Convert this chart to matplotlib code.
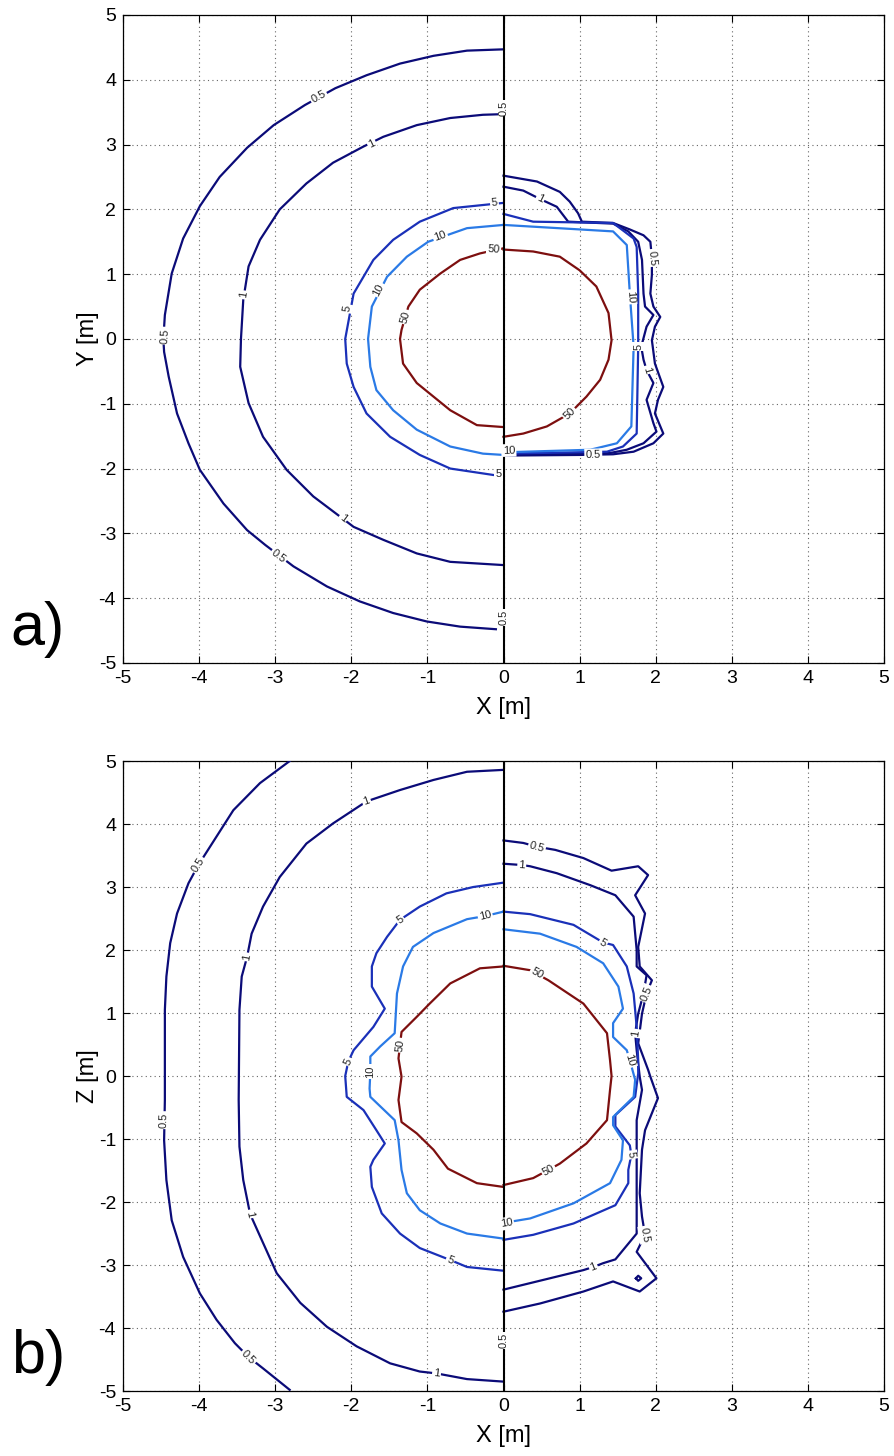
import matplotlib
matplotlib.use('Agg')
import matplotlib.pyplot as plt
import numpy as np

plt.rcParams['font.family'] = ['Liberation Sans', 'DejaVu Sans']
plt.rcParams['axes.unicode_minus'] = False

# ---------------- data ----------------
levels = ['0.5', '1', '5', '10', '50']
level_colors = {'0.5': '#0b0b78', '1': '#0b0b78', '5': '#1a30b8',
                '10': '#2a7ae6', '50': '#7d0f0f'}

# ---- panel a (X-Y) : left half (unshielded) ----
a_l_05_x = [0, -0.48, -0.92, -1.36, -1.80, -2.21, -2.61, -3.02, -3.37, -3.73, -3.99, -4.21, -4.36, -4.45, -4.47,
            -4.46, -4.40, -4.29, -4.14, -3.99, -3.68, -3.37, -3.13, -2.76, -2.32, -1.89, -1.45, -1.01, -0.57, -0.10]
a_l_05_y = [4.47, 4.45, 4.37, 4.25, 4.07, 3.87, 3.61, 3.30, 2.95, 2.50, 2.05, 1.55, 1.01, 0.37, 0.0,
            -0.20, -0.58, -1.15, -1.61, -2.02, -2.54, -2.95, -3.18, -3.51, -3.82, -4.05, -4.23, -4.36, -4.44, -4.48]
a_l_1_x = [0, -0.27, -0.70, -1.14, -1.58, -1.84, -2.24, -2.59, -2.94, -3.20, -3.35, -3.42, -3.45,
           -3.46, -3.35, -3.16, -2.85, -2.50, -2.15, -1.97, -1.58, -1.14, -0.70, 0]
a_l_1_y = [3.47, 3.46, 3.41, 3.30, 3.12, 2.97, 2.72, 2.40, 2.00, 1.53, 1.12, 0.60, 0.0,
           -0.43, -0.99, -1.51, -2.02, -2.43, -2.74, -2.90, -3.10, -3.31, -3.44, -3.49]
a_l_5_x = [0, -0.66, -1.10, -1.45, -1.71, -1.97, -2.08, -2.06, -1.97, -1.80, -1.49, -1.10, -0.70, -0.13, 0]
a_l_5_y = [2.10, 2.02, 1.81, 1.53, 1.22, 0.70, 0.0, -0.38, -0.74, -1.15, -1.51, -1.79, -2.00, -2.10, -2.10]
a_l_10_x = [0, -0.48, -0.99, -1.27, -1.53, -1.73, -1.78, -1.75, -1.67, -1.45, -1.14, -0.70, -0.27, 0]
a_l_10_y = [1.76, 1.71, 1.50, 1.27, 0.96, 0.50, 0.0, -0.43, -0.79, -1.10, -1.40, -1.66, -1.77, -1.79]
a_l_50_x = [0, -0.31, -0.57, -0.83, -1.10, -1.25, -1.34, -1.36, -1.32, -1.14, -0.92, -0.70, -0.35, 0]
a_l_50_y = [1.40, 1.32, 1.22, 1.01, 0.76, 0.50, 0.14, 0.0, -0.38, -0.68, -0.89, -1.10, -1.33, -1.36]

# ---- panel a : right half (shielded) ----
a_r_05_x = [0, 0.44, 0.74, 0.87, 0.98, 1.03, 1.44, 1.66, 1.84, 1.93, 1.95, 1.95, 1.93, 1.97, 2.06, 1.99,
            1.95, 1.99, 2.10, 2.03, 1.99, 2.10, 1.97, 1.71, 1.44, 1.00, 0]
a_r_05_y = [2.52, 2.43, 2.27, 2.12, 1.94, 1.81, 1.79, 1.69, 1.60, 1.50, 1.25, 0.99, 0.70, 0.50, 0.34, 0.19,
            -0.02, -0.38, -0.74, -0.94, -1.15, -1.46, -1.61, -1.74, -1.78, -1.79, -1.80]
a_r_1_x = [0, 0.26, 0.48, 0.70, 0.85, 1.44, 1.64, 1.77, 1.82, 1.84, 1.86, 1.97, 1.88, 1.81, 1.84, 1.88,
           1.97, 1.88, 1.97, 2.01, 1.84, 1.62, 1.40, 0]
a_r_1_y = [2.35, 2.29, 2.16, 2.04, 1.81, 1.78, 1.66, 1.50, 1.22, 0.70, 0.50, 0.37, 0.19, -0.12, -0.32, -0.48,
           -0.68, -0.94, -1.30, -1.43, -1.61, -1.71, -1.76, -1.79]
a_r_5_x = [0, 0.39, 1.44, 1.71, 1.75, 1.77, 1.77, 1.75, 1.57, 1.36, 0]
a_r_5_y = [1.93, 1.81, 1.79, 1.55, 1.42, 0.70, -0.12, -1.46, -1.66, -1.74, -1.77]
a_r_10_x = [0, 1.44, 1.62, 1.66, 1.71, 1.68, 1.49, 1.14, 0]
a_r_10_y = [1.76, 1.66, 1.45, 0.70, -0.12, -1.35, -1.61, -1.71, -1.75]
a_r_50_x = [0, 0.39, 0.74, 1.00, 1.22, 1.38, 1.42, 1.38, 1.27, 1.09, 0.87, 0.57, 0.26, 0]
a_r_50_y = [1.38, 1.35, 1.27, 1.06, 0.81, 0.40, -0.02, -0.32, -0.63, -0.89, -1.15, -1.35, -1.46, -1.51]

# ---- panel b (X-Z) : left half ----
b_l_05_x = [-2.81, -3.20, -3.55, -4.01, -4.14, -4.29, -4.38, -4.43, -4.45, -4.45, -4.46, -4.43, -4.36,
            -4.21, -3.99, -3.77, -3.53, -3.35, -3.16, -2.81]
b_l_05_y = [5.0, 4.65, 4.22, 3.35, 3.06, 2.58, 2.11, 1.58, 1.05, -0.38, -1.02, -1.65, -2.29,
            -2.87, -3.45, -3.87, -4.24, -4.46, -4.64, -4.98]
b_l_1_x = [0, -0.48, -0.92, -1.36, -1.80, -2.24, -2.59, -2.94, -3.16, -3.31, -3.37, -3.44, -3.47, -3.48,
           -3.47, -3.42, -3.33, -3.20, -2.98, -2.67, -2.32, -1.93, -1.49, -1.10, -0.88, -0.48, 0]
b_l_1_y = [4.86, 4.83, 4.70, 4.54, 4.36, 4.01, 3.69, 3.16, 2.69, 2.26, 1.89, 1.58, 1.05, -0.38,
           -1.12, -1.65, -2.19, -2.54, -3.13, -3.60, -3.98, -4.29, -4.56, -4.69, -4.72, -4.81, -4.85]
b_l_5_x = [0, -0.40, -0.75, -1.10, -1.36, -1.53, -1.67, -1.73, -1.73, -1.56, -1.71, -1.97, -2.04, -2.08,
           -2.06, -1.84, -1.67, -1.56, -1.71, -1.75, -1.73, -1.60, -1.36, -1.10, -0.70, -0.48, 0]
b_l_5_y = [3.07, 3.00, 2.90, 2.69, 2.48, 2.21, 1.95, 1.74, 1.42, 1.07, 0.78, 0.41, 0.23, 0.0,
           -0.33, -0.54, -0.86, -1.07, -1.33, -1.44, -1.76, -2.18, -2.50, -2.73, -2.92, -3.03, -3.09]
b_l_10_x = [0, -0.24, -0.48, -0.92, -1.19, -1.32, -1.40, -1.43, -1.62, -1.75, -1.75, -1.76,
            -1.75, -1.43, -1.38, -1.34, -1.27, -1.10, -0.83, -0.48, 0]
b_l_10_y = [2.61, 2.54, 2.49, 2.27, 2.05, 1.74, 1.31, 0.68, 0.47, 0.31, 0.07, -0.20,
            -0.33, -0.70, -1.02, -1.49, -1.86, -2.13, -2.34, -2.50, -2.58]
b_l_50_x = [0, -0.31, -0.70, -0.97, -1.14, -1.34, -1.36, -1.38, -1.34, -1.38, -1.34, -1.14, -0.92,
            -0.73, -0.35, 0]
b_l_50_y = [1.74, 1.71, 1.47, 1.15, 0.94, 0.70, 0.49, 0.28, -0.01, -0.38, -0.73, -0.91, -1.17,
            -1.47, -1.70, -1.76]

# ---- panel b : right half ----
b_r_05_x = [0, 0.26, 0.44, 0.68, 1.05, 1.42, 1.77, 1.90, 1.73, 1.86, 1.77, 1.79, 1.95, 1.88, 1.82, 1.77,
            1.90, 1.93, 2.03, 1.86, 1.82, 1.79, 1.82, 1.86, 1.75, 2.01, 1.79, 1.44, 1.05, 0.48, 0]
b_r_05_y = [3.74, 3.70, 3.64, 3.59, 3.46, 3.26, 3.33, 3.19, 2.87, 2.58, 2.05, 1.74, 1.52, 1.31, 0.99, 0.52,
            0.10, -0.01, -0.35, -0.86, -1.17, -1.86, -2.23, -2.52, -2.79, -3.21, -3.42, -3.26, -3.42, -3.61, -3.74]
b_r_05_loop_x = [1.74, 1.77, 1.81, 1.77, 1.74]
b_r_05_loop_y = [-3.21, -3.17, -3.21, -3.25, -3.21]
b_r_1_x = [0, 0.24, 0.35, 0.70, 1.14, 1.47, 1.71, 1.75, 1.75, 1.88, 1.84, 1.77, 1.73, 1.75, 1.79, 1.82,
           1.75, 1.75, 1.47, 1.31, 1.18, 1.05, 0]
b_r_1_y = [3.37, 3.35, 3.33, 3.22, 3.03, 2.87, 2.53, 2.00, 1.74, 1.60, 1.31, 0.99, 0.68, 0.41, -0.01, -0.22,
           -0.70, -2.50, -2.91, -2.97, -3.03, -3.08, -3.39]
b_r_5_x = [0, 0.35, 0.92, 1.31, 1.44, 1.62, 1.71, 1.75, 1.77, 1.77, 1.73, 1.47, 1.47, 1.66, 1.68, 1.64,
           1.64, 1.47, 0.92, 0.39, 0]
b_r_5_y = [2.61, 2.57, 2.40, 2.12, 2.08, 1.74, 1.31, 0.78, 0.25, 0.04, -0.33, -0.62, -0.80, -1.10, -1.25,
           -1.49, -1.70, -2.05, -2.34, -2.52, -2.60]
b_r_10_x = [0, 0.48, 0.96, 1.31, 1.51, 1.57, 1.44, 1.44, 1.62, 1.66, 1.73, 1.71, 1.44, 1.44, 1.57, 1.55,
            1.40, 0.92, 0.35, 0]
b_r_10_y = [2.33, 2.26, 2.05, 1.79, 1.42, 1.07, 0.84, 0.62, 0.41, 0.25, -0.06, -0.33, -0.65, -0.78, -1.02,
            -1.33, -1.70, -2.02, -2.26, -2.33]
b_r_50_x = [0, 0.35, 0.59, 1.05, 1.36, 1.40, 1.42, 1.40, 1.36, 1.09, 0.74, 0.59, 0.39, 0]
b_r_50_y = [1.75, 1.68, 1.52, 1.15, 0.68, 0.25, 0.0, -0.22, -0.70, -1.07, -1.39, -1.49, -1.62, -1.73]

# contour label positions (level, x, y)
a_labels = [('0.5', -2.43, 3.74), ('0.5', -4.45, 0.05), ('0.5', -2.96, -3.36),
            ('1', -1.73, 3.01), ('1', -3.41, 0.68), ('1', -2.11, -2.77),
            ('5', -2.06, 0.47), ('5', -0.12, 2.10), ('5', -0.07, -2.09),
            ('10', -0.83, 1.58), ('10', -1.64, 0.76),
            ('50', -0.13, 1.38), ('50', -1.29, 0.34),
            ('0.5', 1.95, 1.25), ('0.5', 1.18, -1.79), ('1', 0.48, 2.16), ('1', 1.88, -0.48),
            ('10', 1.67, 0.65), ('5', 1.77, -0.12), ('50', 0.87, -1.15), ('10', 0.07, -1.72)]
a_axis_labels = [('0.5', 0.0, 3.56), ('0.5', 0.0, -4.30)]
b_labels = [('0.5', -4.01, 3.35), ('0.5', -4.46, -0.70), ('0.5', -3.35, -4.46),
            ('1', -1.80, 4.36), ('1', -3.37, 1.89), ('1', -3.33, -2.19), ('1', -0.88, -4.72),
            ('5', -1.36, 2.48), ('5', -2.04, 0.23), ('5', -0.70, -2.92),
            ('10', -0.24, 2.54), ('10', -1.75, 0.07),
            ('50', -1.36, 0.49),
            ('0.5', 0.44, 3.64), ('0.5', 1.88, 1.31), ('0.5', 1.86, -2.52),
            ('1', 0.24, 3.35), ('1', 1.73, 0.68), ('1', 1.18, -3.03),
            ('5', 1.31, 2.12), ('5', 1.68, -1.25),
            ('10', 1.66, 0.25), ('10', 0.04, -2.34),
            ('50', 0.44, 1.63), ('50', 0.59, -1.49)]
b_axis_labels = [('0.5', 0.0, -4.20)]

ticks = [-5, -4, -3, -2, -1, 0, 1, 2, 3, 4, 5]

panel_a = {
    '0.5': [(a_l_05_x, a_l_05_y), (a_r_05_x, a_r_05_y)],
    '1': [(a_l_1_x, a_l_1_y), (a_r_1_x, a_r_1_y)],
    '5': [(a_l_5_x, a_l_5_y), (a_r_5_x, a_r_5_y)],
    '10': [(a_l_10_x, a_l_10_y), (a_r_10_x, a_r_10_y)],
    '50': [(a_l_50_x, a_l_50_y), (a_r_50_x, a_r_50_y)],
}
panel_b = {
    '0.5': [(b_l_05_x, b_l_05_y), (b_r_05_x, b_r_05_y), (b_r_05_loop_x, b_r_05_loop_y)],
    '1': [(b_l_1_x, b_l_1_y), (b_r_1_x, b_r_1_y)],
    '5': [(b_l_5_x, b_l_5_y), (b_r_5_x, b_r_5_y)],
    '10': [(b_l_10_x, b_l_10_y), (b_r_10_x, b_r_10_y)],
    '50': [(b_l_50_x, b_l_50_y), (b_r_50_x, b_r_50_y)],
}

# ---------------- drawing ----------------
fig = plt.figure(figsize=(8.94, 14.56), dpi=100)
ax_a = fig.add_axes([0.1376, 0.5447, 0.8512, 0.4450])
ax_b = fig.add_axes([0.1376, 0.0446, 0.8512, 0.4327])


def label_angle(ax, xs, ys, x, y):
    pts = ax.transData.transform(np.column_stack([xs, ys]))
    p = ax.transData.transform((x, y))
    best, ang = 1e18, 0.0
    for i in range(len(pts) - 1):
        a, b = pts[i], pts[i + 1]
        d = b - a
        L = np.dot(d, d)
        if L == 0:
            continue
        t = np.clip(np.dot(p - a, d) / L, 0, 1)
        q = a + t * d
        dist = np.sum((p - q) ** 2)
        if dist < best:
            best = dist
            ang = np.degrees(np.arctan2(d[1], d[0]))
    while ang > 90:
        ang -= 180
    while ang <= -90:
        ang += 180
    return ang


def draw_panel(ax, lines, labels, axis_labels, ylabel, tag):
    ax.set_xlim(-5, 5)
    ax.set_ylim(-5, 5)
    ax.set_xticks(ticks)
    ax.set_yticks(ticks)
    ax.grid(True, linestyle=(0, (1, 3)), color='#666666', linewidth=0.8)
    ax.set_axisbelow(True)
    for lev in levels:
        for xs, ys in lines[lev]:
            ax.plot(xs, ys, color=level_colors[lev], lw=1.6, solid_joinstyle='round', zorder=3)
    ax.axvline(0, color='black', lw=1.5, zorder=4)
    fig.canvas.draw()
    for lev, x, y in labels:
        best = None
        for xs, ys in lines[lev]:
            pts = np.column_stack([xs, ys])
            d = np.min(np.sum((pts - [x, y]) ** 2, axis=1))
            if best is None or d < best[0]:
                best = (d, xs, ys)
        ang = label_angle(ax, best[1], best[2], x, y)
        ax.text(x, y, lev, fontsize=8, color='#222222', rotation=ang, rotation_mode='anchor',
                ha='center', va='center', zorder=5,
                bbox=dict(boxstyle='square,pad=0.12', fc='white', ec='none'))
    for lev, x, y in axis_labels:
        ax.text(x, y, lev, fontsize=8, color='#222222', rotation=90, ha='center', va='center',
                zorder=5, bbox=dict(boxstyle='square,pad=0.05', fc='white', ec='none'))
    ax.tick_params(direction='in', top=True, right=True, labelsize=14, length=5, width=0.8,
                   colors='black', pad=5)
    for s in ax.spines.values():
        s.set_linewidth(0.9)
    ax.set_xlabel('X [m]', fontsize=17, labelpad=7)
    ax.set_ylabel(ylabel, fontsize=17, labelpad=0)
    ax.text(-0.112, 0.028, tag, transform=ax.transAxes, fontsize=44, ha='center', va='baseline')


draw_panel(ax_a, panel_a, a_labels, a_axis_labels, 'Y [m]', 'a)')
draw_panel(ax_b, panel_b, b_labels, b_axis_labels, 'Z [m]', 'b)')

fig.savefig('out.png', dpi=100)
